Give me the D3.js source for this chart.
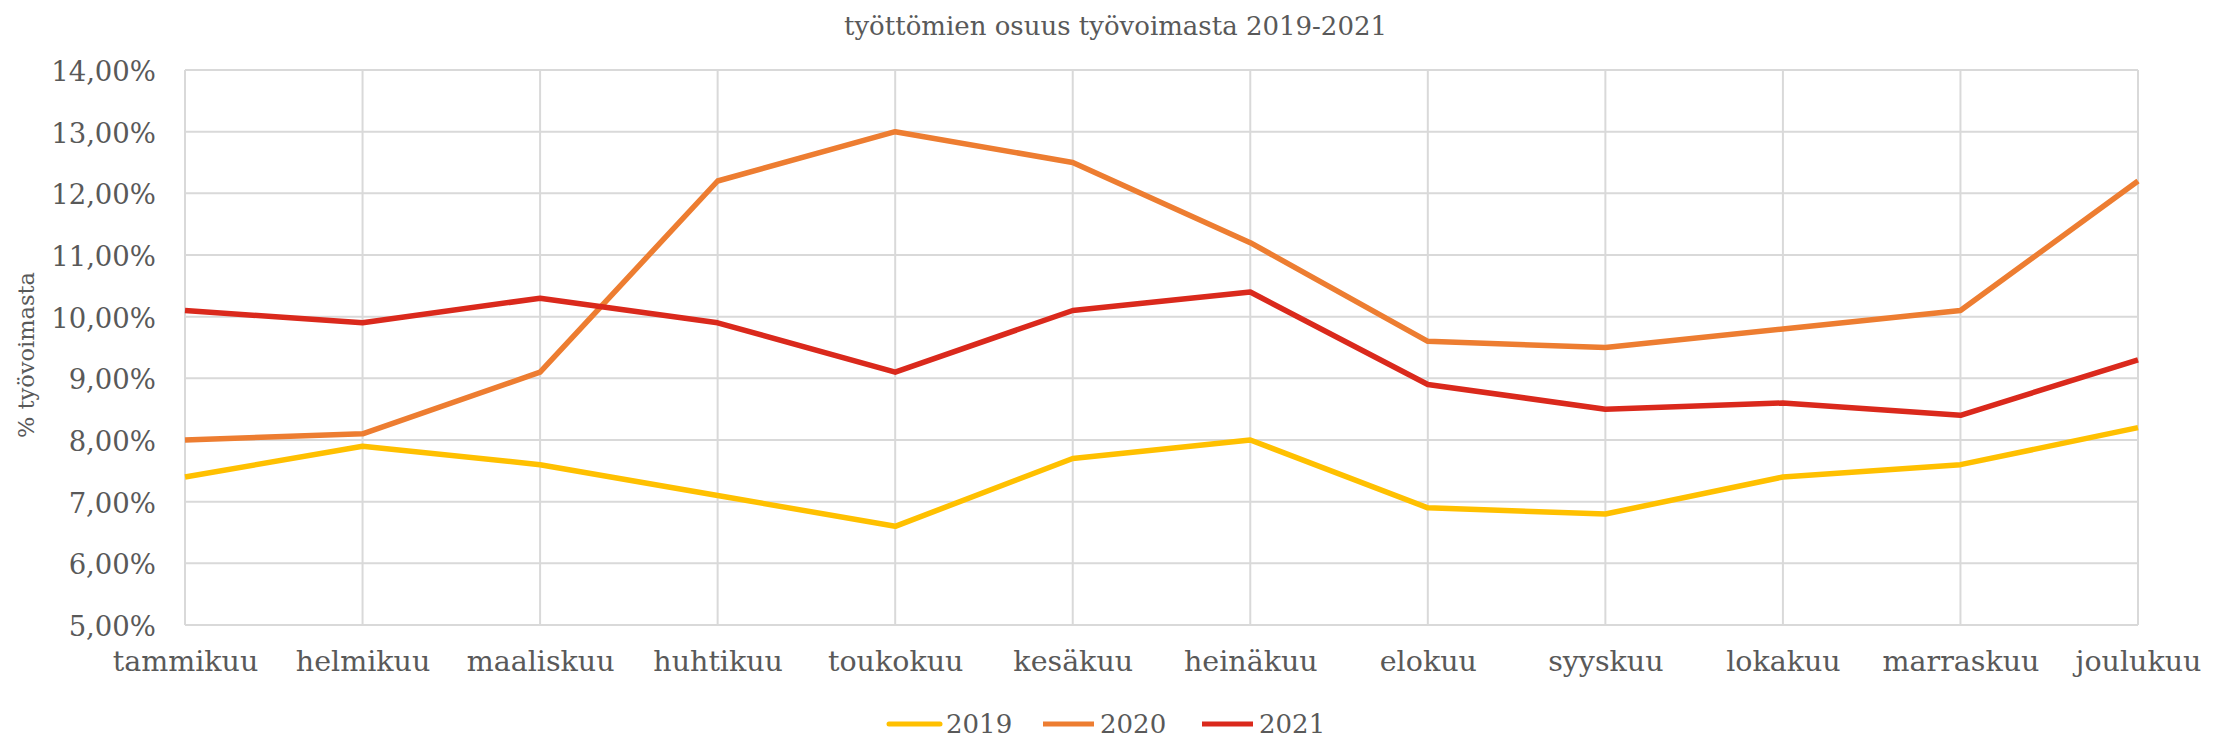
<!DOCTYPE html>
<html>
<head>
<meta charset="utf-8">
<script src="https://cdn.jsdelivr.net/npm/d3@7"></script>
<style>
  body { margin: 0; background: #fff; }
  svg text { font-family: Georgia, "DejaVu Serif", serif; fill: #595959; }
</style>
</head>
<body>
<svg id="chart"></svg>
<script>
const W = 2231, H = 744;
const margin = {top: 70, right: 93, bottom: 119, left: 185};

// data
const months = ["tammikuu", "helmikuu", "maaliskuu", "huhtikuu", "toukokuu", "kesäkuu",
  "heinäkuu", "elokuu", "syyskuu", "lokakuu", "marraskuu", "joulukuu"];
const years = ["2019", "2020", "2021"];
const colors = ["#FFC000", "#ED7D31", "#DA291C"];
const v2019 = [7.4, 7.9, 7.6, 7.1, 6.6, 7.7, 8.0, 6.9, 6.8, 7.4, 7.6, 8.2];
const v2020 = [8.0, 8.1, 9.1, 12.2, 13.0, 12.5, 11.2, 9.6, 9.5, 9.8, 10.1, 12.2];
const v2021 = [10.1, 9.9, 10.3, 9.9, 9.1, 10.1, 10.4, 8.9, 8.5, 8.6, 8.4, 9.3];
const yTicks = [5, 6, 7, 8, 9, 10, 11, 12, 13, 14];

const series = [v2019, v2020, v2021].map((vals, i) => ({name: years[i], color: colors[i], values: vals}));

const width = W - margin.left - margin.right;
const height = H - margin.top - margin.bottom;

const svg = d3.select('#chart').attr('width', W).attr('height', H);
const chart = svg.append('g').attr('transform', 'translate(' + margin.left + ',' + margin.top + ')');

const x = d3.scalePoint().domain(months).range([0, width]);
const y = d3.scaleLinear().domain([5, 14]).range([height, 0]);

const fmt = v => d3.format('.2f')(v).replace('.', ',') + '%';

// gridlines
chart.append('g').selectAll('line').data(yTicks).enter().append('line')
  .attr('x1', 0).attr('x2', width)
  .attr('y1', d => y(d)).attr('y2', d => y(d))
  .attr('stroke', '#D9D9D9').attr('stroke-width', 2);
chart.append('g').selectAll('line').data(months).enter().append('line')
  .attr('x1', d => x(d)).attr('x2', d => x(d))
  .attr('y1', 0).attr('y2', height)
  .attr('stroke', '#D9D9D9').attr('stroke-width', 2);

// axes (labels only)
const yAxis = chart.append('g').call(d3.axisLeft(y).tickValues(yTicks).tickFormat(fmt).tickSize(0).tickPadding(29));
yAxis.select('.domain').remove();
yAxis.selectAll('text').style('font-size', '27.5px').attr('dy', '0.38em');

const xAxis = chart.append('g').attr('transform', 'translate(0,' + height + ')')
  .call(d3.axisBottom(x).tickSize(0).tickPadding(26));
xAxis.select('.domain').remove();
xAxis.selectAll('text').style('font-size', '28.5px');

// lines
const line = d3.line().x((d, i) => x(months[i])).y(d => y(d));
chart.selectAll('.series').data(series).enter().append('path')
  .attr('fill', 'none')
  .attr('stroke', d => d.color)
  .attr('stroke-width', 5.5)
  .attr('stroke-linejoin', 'round')
  .attr('d', d => line(d.values));

// title
svg.append('text').attr('x', W / 2).attr('y', 35).attr('text-anchor', 'middle')
  .style('font-size', '26px').text('työttömien osuus työvoimasta 2019-2021');

// y axis title
svg.append('text').attr('transform', 'translate(34,355) rotate(-90)')
  .attr('text-anchor', 'middle').style('font-size', '22.5px').text('% työvoimasta');

// legend
const legendX = [889, 1043, 1202];
const legend = svg.append('g').selectAll('g').data(series).enter().append('g')
  .attr('transform', (d, i) => 'translate(' + legendX[i] + ',724)');
legend.append('line').attr('x1', 0).attr('x2', 51).attr('y1', 0).attr('y2', 0)
  .attr('stroke', d => d.color).attr('stroke-width', 5)
  .attr('stroke-linecap', (d, i) => i === 0 ? 'round' : 'butt');
legend.append('text').attr('x', 57).attr('dy', '0.36em').style('font-size', '26px').text(d => d.name);
</script>
</body>
</html>
